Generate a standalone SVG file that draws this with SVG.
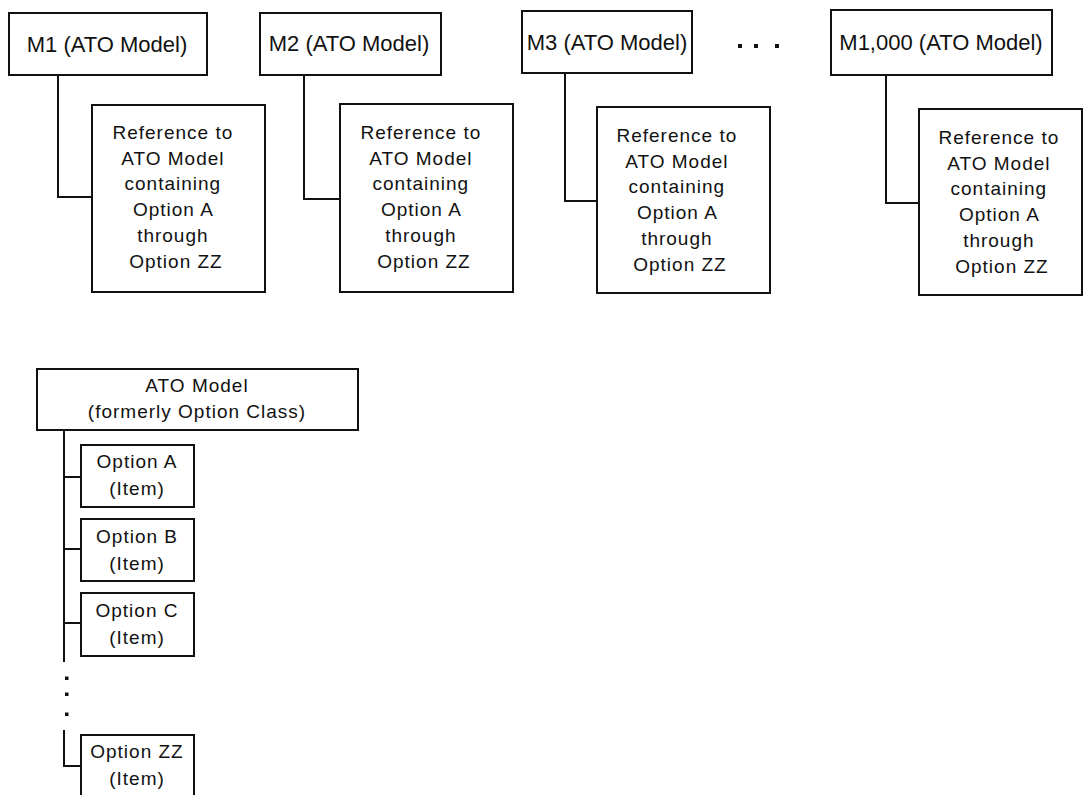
<svg xmlns="http://www.w3.org/2000/svg" width="1083" height="795" viewBox="0 0 1083 795">
  <style>
    .box { fill: #ffffff; stroke: #111111; stroke-width: 2; }
    .wire { fill: none; stroke: #111111; stroke-width: 2; }
    .dot { fill: #111111; }
    text { font-family: "Liberation Sans", Arial, sans-serif; fill: #111111; text-anchor: middle; }
    .model { font-size: 22px; }
    .body { font-size: 19px; letter-spacing: 1px; }
  </style>
  <rect width="1083" height="795" fill="#ffffff"/>

  <!-- tree connectors -->
  <g id="connectors">
    <polyline class="wire" points="58,75 58,197 92,197"/>
    <polyline class="wire" points="304,75 304,199 340,199"/>
    <polyline class="wire" points="565,73 565,201 597,201"/>
    <polyline class="wire" points="886,75 886,203 919,203"/>
    <polyline class="wire" points="64,430 64,662"/>
    <line class="wire" x1="64" y1="477" x2="81" y2="477"/>
    <line class="wire" x1="64" y1="549" x2="81" y2="549"/>
    <line class="wire" x1="64" y1="623" x2="81" y2="623"/>
    <polyline class="wire" points="64,730 64,766 81,766"/>
  </g>

  <!-- ellipsis markers -->
  <g id="ellipses">
    <rect class="dot" x="738" y="44" width="4" height="4"/>
    <rect class="dot" x="754" y="44" width="4" height="4"/>
    <rect class="dot" x="775" y="44" width="4" height="4"/>
    <rect class="dot" x="65" y="676.5" width="3.5" height="3.5"/>
    <rect class="dot" x="65" y="692.5" width="3.5" height="3.5"/>
    <rect class="dot" x="65" y="712.5" width="3.5" height="3.5"/>
  </g>

  <!-- top row: ATO models -->
  <g id="m1">
    <rect class="box" x="9" y="13" width="198" height="62"/>
    <text class="model" x="107" y="52">M1 (ATO Model)</text>
  </g>
  <g id="m2">
    <rect class="box" x="260" y="13" width="181" height="62"/>
    <text class="model" x="349" y="51">M2 (ATO Model)</text>
  </g>
  <g id="m3">
    <rect class="box" x="522" y="11" width="170" height="62"/>
    <text class="model" x="607" y="50">M3 (ATO Model)</text>
  </g>
  <g id="m1000">
    <rect class="box" x="831" y="10" width="221" height="65"/>
    <text class="model" x="941" y="50">M1,000 (ATO Model)</text>
  </g>

  <!-- reference boxes -->
  <g id="ref1">
    <rect class="box" x="92" y="105" width="173" height="187"/>
    <text class="body" x="176" y="139">
      <tspan x="176" dy="0">Reference to</tspan>
      <tspan x="176" dy="25.7">ATO Model</tspan>
      <tspan x="176" dy="25.7">containing</tspan>
      <tspan x="176" dy="25.7">Option A</tspan>
      <tspan x="176" dy="25.7">through</tspan>
      <tspan x="176" dy="25.7">Option ZZ</tspan>
    </text>
  </g>
  <g id="ref2">
    <rect class="box" x="340" y="104" width="173" height="188"/>
    <text class="body" x="424" y="139">
      <tspan x="424" dy="0">Reference to</tspan>
      <tspan x="424" dy="25.7">ATO Model</tspan>
      <tspan x="424" dy="25.7">containing</tspan>
      <tspan x="424" dy="25.7">Option A</tspan>
      <tspan x="424" dy="25.7">through</tspan>
      <tspan x="424" dy="25.7">Option ZZ</tspan>
    </text>
  </g>
  <g id="ref3">
    <rect class="box" x="597" y="107" width="173" height="186"/>
    <text class="body" x="680" y="142">
      <tspan x="680" dy="0">Reference to</tspan>
      <tspan x="680" dy="25.7">ATO Model</tspan>
      <tspan x="680" dy="25.7">containing</tspan>
      <tspan x="680" dy="25.7">Option A</tspan>
      <tspan x="680" dy="25.7">through</tspan>
      <tspan x="680" dy="25.7">Option ZZ</tspan>
    </text>
  </g>
  <g id="ref4">
    <rect class="box" x="919" y="109" width="163" height="186"/>
    <text class="body" x="1002" y="144">
      <tspan x="1002" dy="0">Reference to</tspan>
      <tspan x="1002" dy="25.7">ATO Model</tspan>
      <tspan x="1002" dy="25.7">containing</tspan>
      <tspan x="1002" dy="25.7">Option A</tspan>
      <tspan x="1002" dy="25.7">through</tspan>
      <tspan x="1002" dy="25.7">Option ZZ</tspan>
    </text>
  </g>

  <!-- bottom: ATO model and its option items -->
  <g id="ato-model">
    <rect class="box" x="37" y="369" width="321" height="61"/>
    <text class="body" x="197" y="392">ATO Model</text>
    <text class="body" x="197" y="418">(formerly Option Class)</text>
  </g>
  <g id="option-a">
    <rect class="box" x="81" y="445" width="113" height="62"/>
    <text class="body" x="137" y="468">Option A</text>
    <text class="body" x="137" y="495">(Item)</text>
  </g>
  <g id="option-b">
    <rect class="box" x="81" y="519" width="113" height="62"/>
    <text class="body" x="137" y="542.5">Option B</text>
    <text class="body" x="137" y="569.5">(Item)</text>
  </g>
  <g id="option-c">
    <rect class="box" x="81" y="593" width="113" height="63"/>
    <text class="body" x="137" y="616.5">Option C</text>
    <text class="body" x="137" y="643.5">(Item)</text>
  </g>
  <g id="option-zz">
    <rect class="box" x="81" y="735" width="113" height="70"/>
    <text class="body" x="137" y="758">Option ZZ</text>
    <text class="body" x="137" y="785">(Item)</text>
  </g>
</svg>
